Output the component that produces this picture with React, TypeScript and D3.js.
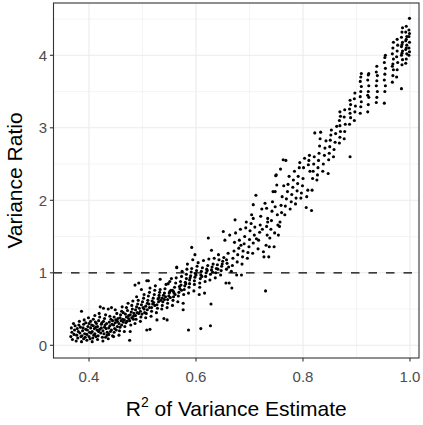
import React from "react";
import * as d3 from "d3";

// Lower-left cluster (R2 ~0.37-0.47)
const lowCluster: [number, number][] = [
  [0.366,0.12],[0.367,0.24],[0.368,0.18],[0.369,0.08],[0.371,0.30],[0.372,0.15],[0.373,0.21],[0.374,0.27],
  [0.376,0.06],[0.377,0.14],[0.378,0.23],[0.379,0.10],[0.380,0.19],[0.381,0.28],[0.382,0.33],[0.383,0.17],[0.384,0.25],[0.385,0.12],
  [0.386,0.05],[0.386,0.47],[0.387,0.13],[0.388,0.20],[0.389,0.24],[0.390,0.09],[0.390,0.29],[0.391,0.35],[0.392,0.16],[0.393,0.11],[0.394,0.22],[0.394,0.31],
  [0.396,0.07],[0.396,0.15],[0.397,0.21],[0.398,0.26],[0.399,0.38],[0.400,0.12],[0.400,0.30],[0.401,0.18],[0.402,0.09],[0.403,0.24],[0.403,0.33],[0.404,0.17],[0.405,0.28],
  [0.406,0.05],[0.406,0.19],[0.407,0.10],[0.408,0.27],[0.408,0.36],[0.409,0.14],[0.410,0.23],[0.411,0.41],[0.411,0.16],[0.412,0.32],[0.413,0.25],[0.413,0.12],[0.414,0.30],[0.415,0.21],
  [0.416,0.08],[0.416,0.26],[0.417,0.13],[0.418,0.34],[0.418,0.19],[0.419,0.44],[0.420,0.22],[0.420,0.39],[0.421,0.53],[0.422,0.17],[0.423,0.29],[0.423,0.24],[0.424,0.31],[0.425,0.11],
  [0.426,0.06],[0.426,0.20],[0.427,0.51],[0.427,0.33],[0.428,0.16],[0.429,0.25],[0.429,0.37],[0.430,0.28],[0.431,0.11],[0.431,0.42],[0.432,0.23],[0.433,0.30],[0.434,0.14],[0.434,0.18],
  [0.436,0.09],[0.436,0.50],[0.437,0.24],[0.437,0.15],[0.438,0.32],[0.439,0.27],[0.439,0.40],[0.440,0.19],[0.441,0.36],[0.442,0.52],[0.442,0.21],[0.443,0.29],[0.444,0.34],[0.444,0.13],
  [0.446,0.12],[0.446,0.28],[0.447,0.18],[0.447,0.39],[0.448,0.23],[0.449,0.49],[0.449,0.31],[0.450,0.35],[0.451,0.21],[0.452,0.44],[0.453,0.26],[0.453,0.33],[0.454,0.37],
  [0.456,0.14],[0.456,0.30],[0.457,0.20],[0.458,0.38],[0.458,0.25],[0.459,0.42],[0.460,0.34],[0.461,0.47],[0.461,0.28],[0.462,0.53],[0.463,0.36],[0.464,0.45],[0.464,0.32]
];

// Rising band (R2 ~0.47-0.57)
const midLow: [number, number][] = [
  [0.466,0.19],[0.466,0.35],[0.467,0.26],[0.468,0.43],[0.469,0.31],[0.470,0.39],[0.470,0.52],[0.471,0.33],[0.472,0.48],[0.473,0.58],[0.474,0.41],[0.474,0.37],
  [0.476,0.07],[0.476,0.34],[0.477,0.19],[0.477,0.42],[0.478,0.28],[0.479,0.46],[0.480,0.38],[0.480,0.55],[0.481,0.50],[0.482,0.61],[0.483,0.40],[0.483,0.36],[0.484,0.44],
  [0.486,0.30],[0.486,0.83],[0.487,0.41],[0.487,0.49],[0.488,0.36],[0.489,0.67],[0.489,0.53],[0.490,0.45],[0.491,0.57],[0.492,0.62],[0.493,0.44],[0.493,0.86],[0.494,0.51],
  [0.496,0.33],[0.496,0.47],[0.497,0.39],[0.498,0.56],[0.498,0.77],[0.499,0.43],[0.500,0.60],[0.501,0.52],[0.502,0.65],[0.503,0.50],[0.503,0.70],[0.504,0.45],
  [0.506,0.38],[0.506,0.54],[0.507,0.44],[0.508,0.21],[0.508,0.89],[0.509,0.58],[0.509,0.49],[0.510,0.62],[0.511,0.68],[0.511,0.89],[0.512,0.57],[0.513,0.73],[0.513,0.52],[0.514,0.22],[0.514,0.79],
  [0.516,0.40],[0.517,0.52],[0.517,0.47],[0.518,0.61],[0.519,0.57],[0.520,0.65],[0.521,0.59],[0.522,0.70],[0.523,0.76],[0.523,0.55],[0.524,0.82],
  [0.526,0.45],[0.527,0.35],[0.527,0.56],[0.528,0.51],[0.529,0.64],[0.530,0.60],[0.531,0.69],[0.531,0.66],[0.532,0.73],[0.533,0.77],[0.533,0.91],[0.534,0.62],
  [0.536,0.50],[0.537,0.55],[0.537,0.65],[0.538,0.60],[0.539,0.69],[0.540,0.37],[0.541,0.72],[0.541,0.63],[0.542,0.78],[0.543,0.67],[0.544,0.84],
  [0.546,0.52],[0.546,0.35],[0.547,0.63],[0.547,0.58],[0.548,0.85],[0.549,0.68],[0.550,0.72],[0.551,0.88],[0.551,0.74],[0.552,0.66],[0.553,0.76],[0.554,0.92],
  [0.556,0.55],[0.556,0.76],[0.557,0.62],[0.558,0.67],[0.558,0.74],[0.559,0.72],[0.560,0.80],[0.561,0.70],[0.562,0.86],[0.563,0.93],[0.564,1.07],[0.564,1.08]
];

// Crossing the reference line (R2 ~0.57-0.66)
const midHigh: [number, number][] = [
  [0.566,0.60],[0.567,0.68],[0.568,0.73],[0.569,0.81],[0.570,0.78],[0.571,0.88],[0.572,0.83],[0.573,0.95],[0.573,0.76],[0.574,1.02],
  [0.576,0.49],[0.576,0.58],[0.577,0.70],[0.578,0.77],[0.579,0.82],[0.580,0.87],[0.581,0.85],[0.582,0.92],[0.582,0.98],[0.583,1.05],[0.584,1.12],
  [0.586,0.21],[0.586,0.72],[0.587,0.80],[0.588,0.85],[0.588,0.90],[0.589,0.93],[0.590,0.96],[0.591,1.01],[0.592,1.06],[0.592,1.35],[0.594,1.18],
  [0.596,0.75],[0.597,0.84],[0.597,0.89],[0.598,0.94],[0.598,1.25],[0.599,0.99],[0.600,0.97],[0.601,1.03],[0.602,1.09],[0.604,1.14],
  [0.606,0.70],[0.607,0.80],[0.607,0.86],[0.608,0.92],[0.609,0.23],[0.609,0.97],[0.610,1.02],[0.611,0.95],[0.612,1.07],[0.614,1.17],
  [0.616,0.72],[0.617,0.88],[0.618,0.95],[0.619,1.00],[0.620,1.05],[0.621,1.03],[0.622,1.10],[0.623,1.48],[0.624,1.19],
  [0.626,0.90],[0.627,0.27],[0.627,0.98],[0.628,0.57],[0.629,1.04],[0.629,1.31],[0.630,1.08],[0.631,1.01],[0.632,1.12],[0.634,1.20],
  [0.636,0.93],[0.637,1.00],[0.638,1.06],[0.640,1.11],[0.641,1.05],[0.642,1.25],[0.643,1.18],
  [0.646,0.97],[0.647,1.03],[0.648,1.09],[0.649,1.12],[0.650,1.16],[0.651,1.57],[0.652,1.21],[0.654,1.45],
  [0.656,0.86],[0.657,1.05],[0.657,1.18],[0.658,1.13],[0.660,1.27],[0.661,1.08],[0.662,0.86],[0.663,1.52]
];

// Upper band (R2 ~0.66-0.76)
const upperMid: [number, number][] = [
  [0.666,1.02],[0.667,0.79],[0.668,1.10],[0.669,1.20],[0.671,1.30],[0.672,1.42],[0.673,1.73],[0.674,1.55],
  [0.676,0.97],[0.677,1.15],[0.678,1.25],[0.680,1.34],[0.681,1.45],[0.683,1.60],[0.684,1.38],[0.685,0.97],
  [0.686,1.12],[0.687,1.22],[0.688,1.30],[0.690,1.40],[0.691,1.50],[0.693,1.62],[0.694,1.70],
  [0.696,1.20],[0.697,1.28],[0.699,1.36],[0.700,1.46],[0.701,1.58],[0.703,1.68],[0.704,1.80],
  [0.706,1.27],[0.707,1.41],[0.707,1.75],[0.707,1.94],[0.709,1.52],[0.710,1.63],[0.712,2.07],[0.713,1.47],
  [0.716,1.33],[0.717,1.45],[0.719,1.56],[0.720,1.66],[0.721,1.78],[0.723,1.88],[0.724,1.60],
  [0.726,1.29],[0.727,1.22],[0.729,1.96],[0.730,0.75],[0.731,1.38],[0.732,1.64],[0.732,1.89],[0.733,1.52],[0.734,1.75],[0.734,1.70],
  [0.736,1.22],[0.737,1.36],[0.738,1.48],[0.740,1.60],[0.741,1.72],[0.742,1.85],[0.743,1.98],[0.744,2.12],
  [0.746,1.36],[0.747,1.55],[0.748,2.12],[0.748,1.91],[0.749,2.34],[0.750,2.35],[0.751,2.21],[0.752,1.80],[0.753,1.66],[0.754,1.52],
  [0.756,1.64],[0.757,1.70],[0.758,2.43],[0.759,1.93],[0.760,1.83],[0.761,2.05],[0.763,2.56],[0.764,2.20]
];

// Steep part (R2 ~0.76-0.86)
const steep: [number, number][] = [
  [0.766,1.80],[0.767,1.92],[0.768,2.55],[0.769,2.02],[0.771,2.12],[0.772,2.22],[0.774,2.33],
  [0.776,1.88],[0.778,1.98],[0.779,2.08],[0.781,2.18],[0.782,2.28],[0.784,2.40],
  [0.786,1.95],[0.787,2.03],[0.789,2.13],[0.790,2.23],[0.791,2.33],[0.793,2.45],[0.794,2.52],
  [0.796,2.03],[0.797,2.10],[0.799,2.20],[0.800,2.30],[0.801,2.45],[0.803,2.58],
  [0.806,1.90],[0.807,2.05],[0.809,2.14],[0.810,2.49],[0.811,2.55],[0.812,2.62],[0.813,2.40],
  [0.816,1.86],[0.817,2.14],[0.818,2.30],[0.819,2.40],[0.820,2.50],[0.821,2.60],[0.822,2.93],
  [0.826,2.28],[0.827,2.35],[0.828,2.45],[0.829,2.55],[0.830,2.65],[0.831,2.75],[0.832,2.85],[0.833,2.94],
  [0.837,2.40],[0.838,2.50],[0.840,2.62],[0.841,2.72],[0.843,2.82],
  [0.847,2.37],[0.848,2.56],[0.849,2.65],[0.850,2.74],[0.851,2.83],[0.852,2.90],[0.853,2.97],
  [0.857,2.60],[0.858,2.70],[0.860,2.80],[0.861,2.92],[0.863,3.02]
];

// Top columns (R2 ~0.86-1.0)
const topColumns: [number, number][] = [
  [0.868,2.79],[0.869,2.87],[0.870,2.95],[0.869,3.03],[0.868,3.10],[0.870,3.16],[0.869,3.22],
  [0.877,2.85],[0.878,2.95],[0.879,3.05],[0.877,3.15],[0.878,3.25],
  [0.888,2.60],[0.887,3.05],[0.889,3.14],[0.888,3.20],[0.887,3.26],[0.889,3.32],[0.888,3.38],
  [0.896,3.10],[0.897,3.22],[0.898,3.30],[0.896,3.40],[0.897,3.48],
  [0.907,3.20],[0.908,3.29],[0.909,3.36],[0.907,3.43],[0.908,3.50],[0.909,3.57],[0.907,3.64],[0.908,3.70],[0.909,3.75],
  [0.921,3.22],[0.922,3.32],[0.923,3.42],[0.921,3.45],[0.922,3.50],[0.923,3.58],[0.921,3.66],[0.922,3.73],[0.923,3.75],
  [0.937,3.35],[0.938,3.42],[0.939,3.50],[0.937,3.58],[0.938,3.65],[0.939,3.72],[0.937,3.77],[0.938,3.85],
  [0.952,3.34],[0.953,3.50],[0.954,3.58],[0.952,3.66],[0.953,3.74],[0.954,3.82],[0.952,3.90],[0.953,3.97],[0.954,4.00],
  [0.967,3.63],[0.968,3.72],[0.969,3.80],[0.967,3.85],[0.968,3.88],[0.969,3.95],[0.967,4.02],[0.968,4.10],[0.969,4.18],
  [0.975,3.70],[0.976,3.80],[0.977,3.90],[0.975,3.98],[0.976,4.06],[0.977,4.14],[0.976,4.22],
  [0.984,3.54],[0.985,3.87],[0.986,3.94],[0.984,4.00],[0.985,4.03],[0.986,4.06],[0.984,4.12],[0.985,4.15],[0.986,4.18],[0.984,4.25],[0.985,4.32],[0.986,4.38],
  [0.992,3.89],[0.993,3.95],[0.994,4.02],[0.992,4.08],[0.993,4.10],[0.994,4.14],[0.992,4.20],[0.993,4.22],[0.994,4.26],[0.992,4.32],[0.993,4.40],
  [0.998,4.00],[0.999,4.05],[0.998,4.10],[0.999,4.18],[0.998,4.26],[0.999,4.30],[0.998,4.35],[0.999,4.51]
];

const xTicks = [0.4, 0.6, 0.8, 1.0];
const xTickLabels = ["0.4", "0.6", "0.8", "1.0"];
const xMinor = [0.5, 0.7, 0.9];
const yTicks = [0, 1, 2, 3, 4];
const yMinor = [0.5, 1.5, 2.5, 3.5, 4.5];
const refLine = 1;

const allPoints = [...lowCluster, ...midLow, ...midHigh, ...upperMid, ...steep, ...topColumns];

export default function App() {
  const W = 423, H = 425;
  const left = 53.5, right = 419, top = 3, bottom = 358;
  const x = d3.scaleLinear().domain([0.33364, 1.01682]).range([left, right]);
  const y = d3.scaleLinear().domain([-0.1752, 4.7214]).range([bottom, top]);
  const font = "'Liberation Sans', Arial, sans-serif";
  return (
    <svg width={W} height={H} style={{ position: "absolute", left: 0, top: 0, background: "#fff" }} fontFamily={font}>
      <rect x={0} y={0} width={W} height={H} fill="#fff" />
      <defs>
        <clipPath id="panel"><rect x={left} y={top} width={right - left} height={bottom - top} /></clipPath>
      </defs>
      {xMinor.map(v => <line key={"xm" + v} x1={x(v)} x2={x(v)} y1={top} y2={bottom} stroke="#EBEBEB" strokeWidth={0.55} />)}
      {yMinor.map(v => <line key={"ym" + v} x1={left} x2={right} y1={y(v)} y2={y(v)} stroke="#EBEBEB" strokeWidth={0.55} />)}
      {xTicks.map(v => <line key={"xg" + v} x1={x(v)} x2={x(v)} y1={top} y2={bottom} stroke="#EBEBEB" strokeWidth={1.1} />)}
      {yTicks.map(v => <line key={"yg" + v} x1={left} x2={right} y1={y(v)} y2={y(v)} stroke="#EBEBEB" strokeWidth={1.1} />)}
      <g clipPath="url(#panel)">
        {allPoints.map((p, i) => <circle key={i} cx={x(p[0])} cy={y(p[1])} r={1.55} fill="#000" />)}
        <line x1={left} x2={right} y1={y(refLine)} y2={y(refLine)} stroke="#000" strokeWidth={1.2} strokeDasharray="8.5,9" />
      </g>
      <rect x={left} y={top} width={right - left} height={bottom - top} fill="none" stroke="#333333" strokeWidth={1.1} />
      {xTicks.map((v, i) => (
        <g key={"xt" + v}>
          <line x1={x(v)} x2={x(v)} y1={bottom} y2={bottom + 3.6} stroke="#333333" strokeWidth={1.1} />
          <text x={x(v)} y={bottom + 24} textAnchor="middle" fontSize={15} fill="#4D4D4D">{xTickLabels[i]}</text>
        </g>
      ))}
      {yTicks.map(v => (
        <g key={"yt" + v}>
          <line x1={left - 3.6} x2={left} y1={y(v)} y2={y(v)} stroke="#333333" strokeWidth={1.1} />
          <text x={left - 6.5} y={y(v)} textAnchor="end" fontSize={15} fill="#4D4D4D" dy="0.36em">{v}</text>
        </g>
      ))}
      <text x={(left + right) / 2} y={416} textAnchor="middle" fontSize={21} fill="#000">
        R<tspan dy={-9} fontSize={14}>2</tspan><tspan dy={9}> of Variance Estimate</tspan>
      </text>
      <text transform={`translate(22, ${(top + bottom) / 2}) rotate(-90)`} textAnchor="middle" fontSize={21} fill="#000">Variance Ratio</text>
    </svg>
  );
}
